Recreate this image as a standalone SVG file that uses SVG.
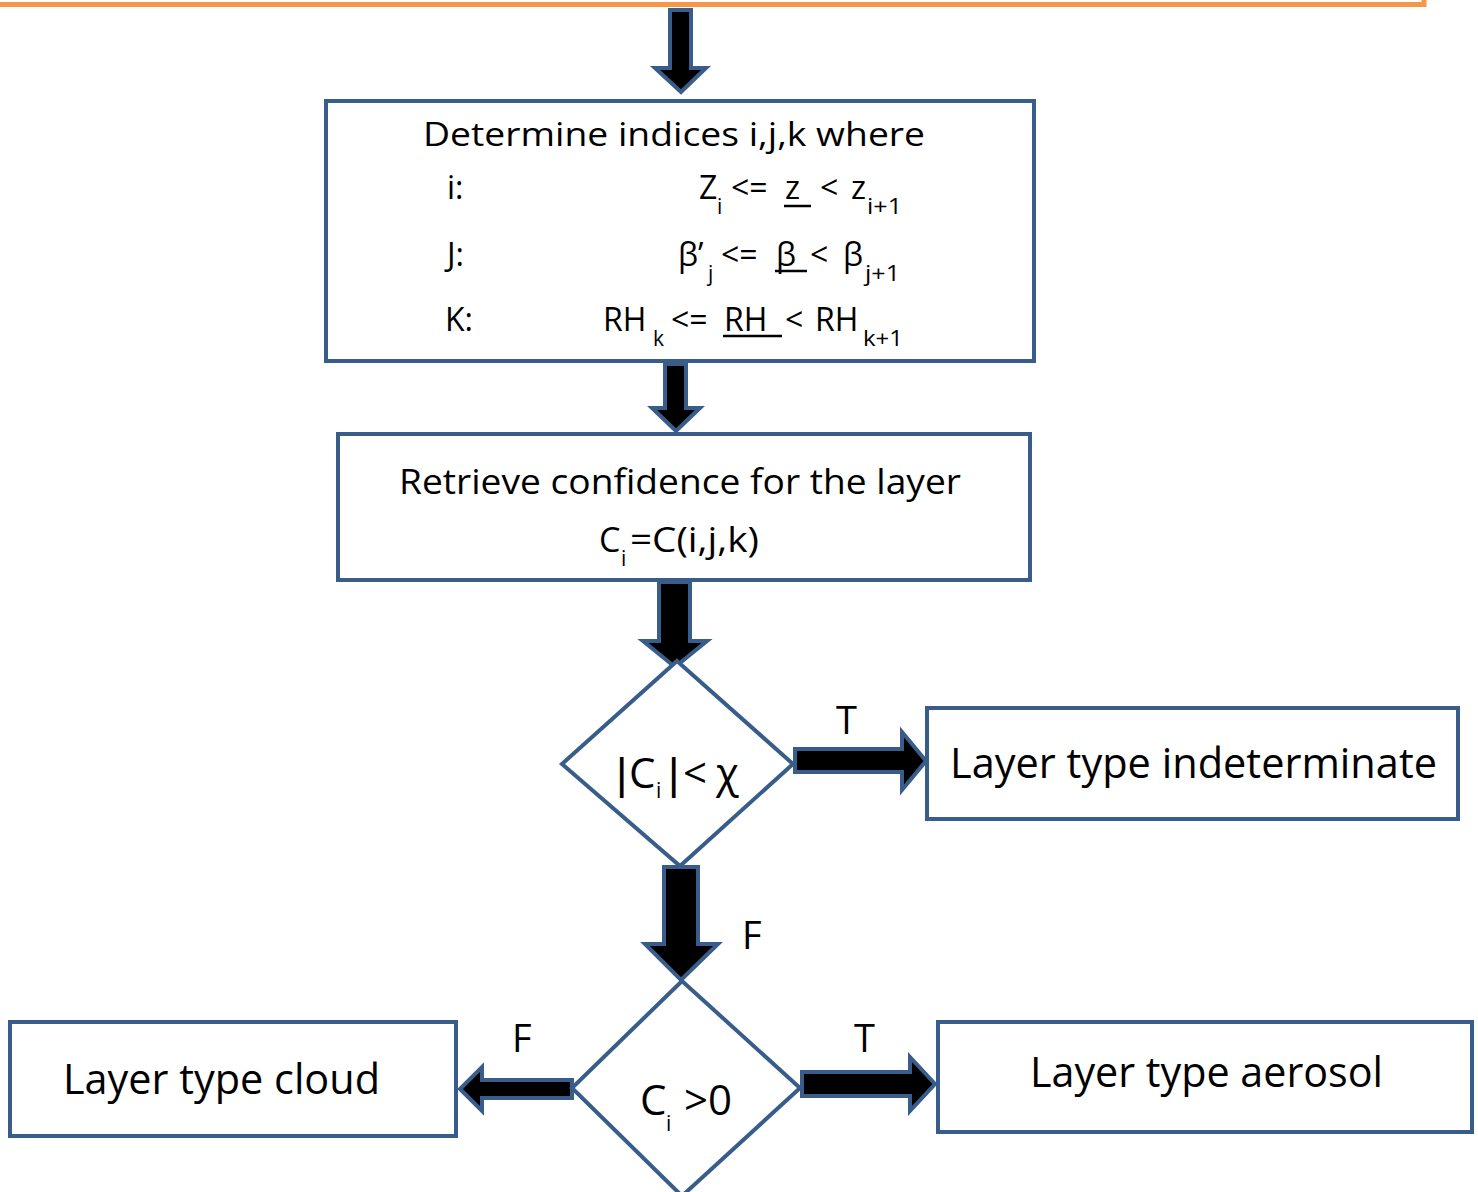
<svg xmlns="http://www.w3.org/2000/svg" width="1478" height="1192" viewBox="0 0 1478 1192">
<style>
.box{fill:#fff;stroke:#385D8A;stroke-width:4}
.arr{fill:#000;stroke:#385D8A;stroke-width:4;stroke-linejoin:miter}
text{font-family:"Open Sans","Noto Sans","Liberation Sans",sans-serif;fill:#000}
.t1{font-size:32px}
.s1{font-size:21px}
.t2{font-size:34px}
.t3{font-size:42px}
.bar{font-family:"Liberation Sans",sans-serif;font-size:44px}
.lab{font-size:38px}
.ul{stroke:#000;stroke-width:2.5}
</style>
<rect width="1478" height="1192" fill="#fff"/>
<g id="prev">
<path d="M-10 4.5H1424V-20" fill="none" stroke="#F79646" stroke-width="5"/>
</g>
<g id="connectors">
<polygon class="arr" points="670,10 691,10 691,68 706,68 681,92 655,68 670,68"/>
<polygon class="arr" points="665,364 686,364 686,408 700,408 676,431 652,408 665,408"/>
<polygon class="arr" points="659,582 690,582 690,641 707,641 675,667 643,641 659,641"/>
<polygon class="arr" points="664,867 698,867 698,944 718,944 681,980 645,944 664,944"/>
<polygon class="arr" points="795,749 902,749 902,732 926,761 902,790 902,772 795,772"/>
<polygon class="arr" points="572,1080 482,1080 482,1067 460,1089 482,1111 482,1098 572,1098"/>
<polygon class="arr" points="802,1072 910,1072 910,1057 935,1084 910,1111 910,1096 802,1096"/>
<text class="lab" x="836" y="734">T</text>
<text class="lab" x="742" y="949">F</text>
<text class="lab" x="512" y="1052">F</text>
<text class="lab" x="854" y="1052">T</text>
</g>
<g id="determine">
<rect class="box" x="326" y="101" width="708" height="260"/>
<text class="t1" x="674" y="146" text-anchor="middle" textLength="502" lengthAdjust="spacingAndGlyphs">Determine indices i,j,k where</text>
<text class="t1" x="447" y="199">i:</text>
<text class="t1" x="699" y="199">Z</text>
<text class="s1" x="717" y="214">i</text>
<text class="t1" x="731" y="199">&lt;=</text>
<text class="t1" x="785" y="199">z</text>
<line class="ul" x1="784" y1="206" x2="811" y2="206"/>
<text class="t1" x="820" y="199">&lt;</text>
<text class="t1" x="851" y="199">z</text>
<text class="s1" x="867" y="214" textLength="35" lengthAdjust="spacingAndGlyphs">i+1</text>
<text class="t1" x="447" y="266">J:</text>
<text class="t1" x="678" y="266">β’</text>
<text class="s1" x="708" y="281">j</text>
<text class="t1" x="721" y="266">&lt;=</text>
<text class="t1" x="776" y="266">β</text>
<line class="ul" x1="775" y1="271" x2="807" y2="271"/>
<text class="t1" x="810" y="266">&lt;</text>
<text class="t1" x="843" y="266">β</text>
<text class="s1" x="865" y="281" textLength="35" lengthAdjust="spacingAndGlyphs">j+1</text>
<text class="t1" x="445" y="331">K:</text>
<text class="t1" x="603" y="331">RH</text>
<text class="s1" x="653" y="346">k</text>
<text class="t1" x="671" y="331">&lt;=</text>
<text class="t1" x="724" y="331">RH</text>
<line class="ul" x1="723" y1="336" x2="782" y2="336"/>
<text class="t1" x="785" y="331">&lt;</text>
<text class="t1" x="815" y="331">RH</text>
<text class="s1" x="863" y="346" textLength="40" lengthAdjust="spacingAndGlyphs">k+1</text>
</g>
<g id="retrieve">
<rect class="box" x="338" y="434" width="692" height="146"/>
<text class="t2" x="680" y="494" text-anchor="middle" textLength="562" lengthAdjust="spacingAndGlyphs">Retrieve confidence for the layer</text>
<text class="t2" x="599" y="552">C</text>
<text class="s1" x="621" y="566">i</text>
<text class="t2" x="630" y="552" textLength="129" lengthAdjust="spacingAndGlyphs">=C(i,j,k)</text>
</g>
<g id="decision1">
<polygon class="box" points="677,661 793,764 680,866 562,764"/>
<text class="bar" x="616" y="789">|</text>
<text class="t3" x="629" y="788">C</text>
<text class="s1" x="656" y="798">i</text>
<text class="bar" x="668" y="789">|</text>
<text class="t3" x="683" y="788">&lt;</text>
<text class="t3" x="716" y="788">χ</text>
</g>
<g id="indeterminate">
<rect class="box" x="927" y="708" width="531" height="111"/>
<text class="t3" x="950" y="778" textLength="487" lengthAdjust="spacingAndGlyphs">Layer type indeterminate</text>
</g>
<g id="decision2">
<polygon class="box" points="682,981 800,1088 682,1196 572,1088"/>
<text class="t3" x="640" y="1115">C</text>
<text class="s1" x="666" y="1131">i</text>
<text class="t3" x="684" y="1115">&gt;0</text>
</g>
<g id="cloud">
<rect class="box" x="10" y="1022" width="446" height="114"/>
<text class="t3" x="63" y="1094" textLength="317" lengthAdjust="spacingAndGlyphs">Layer type cloud</text>
</g>
<g id="aerosol">
<rect class="box" x="938" y="1022" width="534" height="110"/>
<text class="t3" x="1030" y="1087" textLength="353" lengthAdjust="spacingAndGlyphs">Layer type aerosol</text>
</g>
</svg>
